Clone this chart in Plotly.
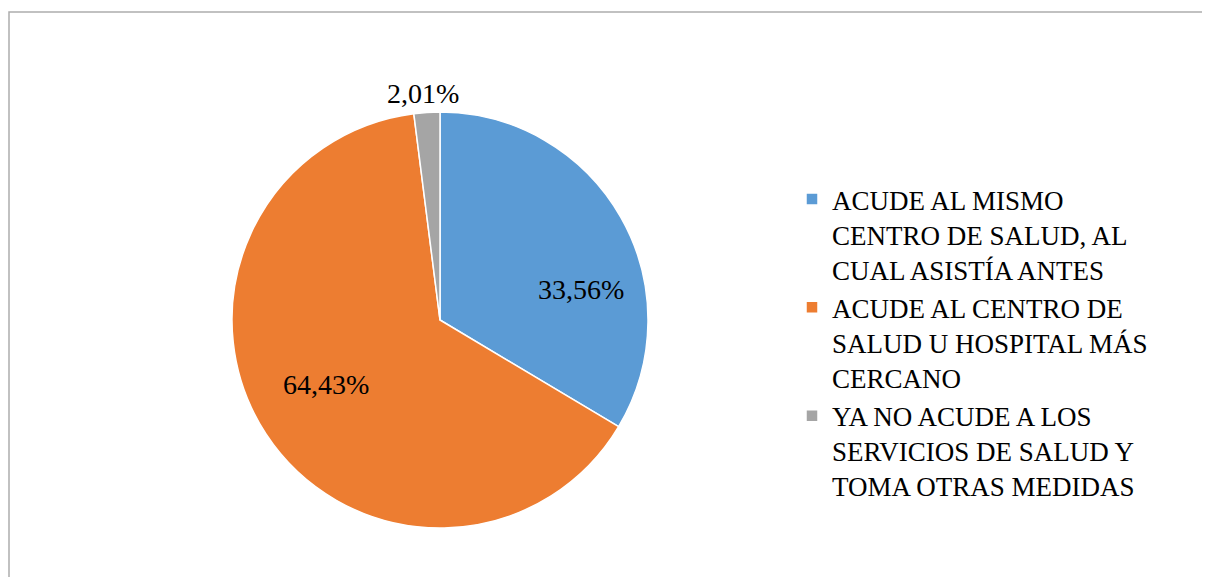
import plotly.graph_objects as go

labels = [
    "ACUDE AL MISMO<br>CENTRO DE SALUD, AL<br>CUAL ASISTÍA ANTES",
    "ACUDE AL CENTRO DE<br>SALUD U HOSPITAL MÁS<br>CERCANO",
    "YA NO ACUDE A LOS<br>SERVICIOS DE SALUD Y<br>TOMA OTRAS MEDIDAS",
]
values = [33.56, 64.43, 2.01]
colors = ["#5B9BD5", "#ED7D31", "#A5A5A5"]
# where each data label sits (pixel centres, like Excel's best-fit placement)
label_xy = [(581, 289), (326, 384), (423, 94)]

pct_text = [f"{v:.2f}".replace(".", ",") + "%" for v in values]

W, H = 1210, 577
OFF = 8  # page body margin shifts the plot by this much
cx, cy, r = 440 - OFF, 320 - OFF, 208
SERIF = "Liberation Serif, Times New Roman, serif"

fig = go.Figure()
fig.add_trace(go.Pie(
    labels=labels,
    values=values,
    textinfo="none",
    sort=False,
    direction="clockwise",
    rotation=0,
    marker=dict(colors=colors, line=dict(color="white", width=1.5)),
    domain=dict(x=[(cx - r) / W, (cx + r) / W], y=[1 - (cy + r) / H, 1 - (cy - r) / H]),
    hoverinfo="label+percent",
))

# data labels
for txt, (px, py) in zip(pct_text, label_xy):
    fig.add_annotation(
        text=txt, xref="paper", yref="paper",
        x=(px - OFF) / W, y=1 - (py - OFF) / H,
        xanchor="center", yanchor="middle", showarrow=False,
        font=dict(family=SERIF, size=28, color="black"),
    )

# chart area border
fig.add_shape(
    type="rect", xref="paper", yref="paper",
    x0=(9 - OFF) / W, x1=1.02, y0=-0.05, y1=1 - (12 - OFF) / H,
    line=dict(color="#adadad", width=1.5),
)

fig.update_layout(
    width=W, height=H,
    margin=dict(l=0, r=0, t=0, b=0),
    paper_bgcolor="white",
    font=dict(family=SERIF, size=27, color="black"),
    showlegend=True,
    legend=dict(
        x=784 / W, y=1 - 167 / H, xanchor="left", yanchor="top",
        valign="top", itemwidth=30,
        font=dict(family=SERIF, size=27, color="black"),
    ),
)

fig.write_html("out.html")
